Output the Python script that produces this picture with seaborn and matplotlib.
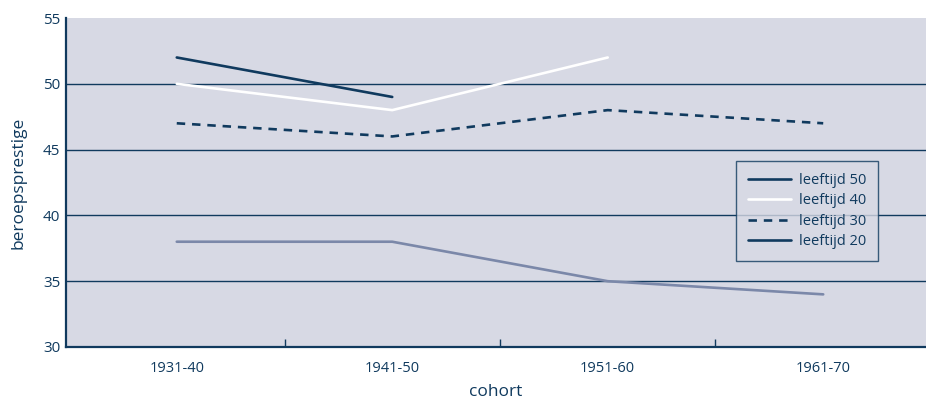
import matplotlib
matplotlib.use("Agg")
import matplotlib.pyplot as plt
from matplotlib.lines import Line2D
import seaborn as sns
import pandas as pd

cohorts = ["1931-40", "1941-50", "1951-60", "1961-70"]
leeftijd_50 = [52, 49]
leeftijd_40 = [50, 48, 52]
leeftijd_30 = [47, 46, 48, 47]
leeftijd_20 = [38, 38, 35, 34]
series_names = ["leeftijd 50", "leeftijd 40", "leeftijd 30", "leeftijd 20"]
y_ticks = [30, 35, 40, 45, 50, 55]

NAVY = "#103a5e"
SLATE = "#7b88a9"
BG = "#d7d9e4"
FONT = ["Open Sans", "DejaVu Sans"]
LW = 1.9
DASH = (3.2, 2.6)

sns.set_theme(style="white")
plt.rcParams["font.family"] = FONT

fig = plt.figure(figsize=(9.26, 4.0), dpi=100)
ax = fig.add_axes([66 / 926, 1 - 347 / 400, 1 - 66 / 926, (347 - 18) / 400])
ax.set_facecolor(BG)

def plot_series(vals, color, dashes=None):
    df = pd.DataFrame({"x": list(range(len(vals))), "y": vals})
    sns.lineplot(data=df, x="x", y="y", color=color, linewidth=LW, ax=ax,
                 legend=False)
    line = ax.lines[-1]
    if dashes is not None:
        line.set_dashes(dashes)
    return line

plot_series(leeftijd_50, NAVY)
plot_series(leeftijd_40, "white")
plot_series(leeftijd_30, NAVY, dashes=DASH)
plot_series(leeftijd_20, SLATE)

ax.set_ylim(30, 55)
ax.set_xlim(-0.514, 3.477)
ax.set_yticks(y_ticks)
ax.set_yticklabels([str(v) for v in y_ticks], fontsize=11, color=NAVY)
for yv in [35, 40, 45, 50]:
    ax.axhline(yv, color=NAVY, linewidth=1.0, zorder=0.5)

ax.set_xticks(range(len(cohorts)))
ax.set_xticklabels(cohorts, fontsize=10.5, color=NAVY)
ax.set_xticks([0.5, 1.5, 2.5], minor=True)
ax.tick_params(axis="x", which="major", length=0, pad=10)
ax.tick_params(axis="x", which="minor", direction="in", length=6,
               width=1, color=NAVY, bottom=True)
ax.tick_params(axis="y", length=0, pad=4)

for s in ["top", "right"]:
    ax.spines[s].set_visible(False)
for s in ["left", "bottom"]:
    ax.spines[s].set_color(NAVY)
    ax.spines[s].set_linewidth(1.6)

ax.set_xlabel("cohort", fontsize=12.5, color=NAVY, labelpad=6)
ax.set_ylabel("beroepsprestige", fontsize=12.5, color=NAVY, labelpad=12)

handles = [
    Line2D([], [], color=NAVY, linewidth=LW),
    Line2D([], [], color="white", linewidth=LW),
    Line2D([], [], color=NAVY, linewidth=LW, dashes=DASH),
    Line2D([], [], color=NAVY, linewidth=LW),
]
leg = fig.legend(handles, series_names, loc="upper left",
                 bbox_to_anchor=(736 / 926, 1 - 161 / 400),
                 frameon=True, fancybox=False, fontsize=10.5,
                 handlelength=3.0, handletextpad=0.5, labelspacing=0.38,
                 borderpad=0.8, borderaxespad=0)
leg.get_frame().set_facecolor(BG)
leg.get_frame().set_edgecolor(NAVY)
leg.get_frame().set_linewidth(1.0)
for t in leg.get_texts():
    t.set_color(NAVY)

fig.savefig("out.png", dpi=100, facecolor="white")
